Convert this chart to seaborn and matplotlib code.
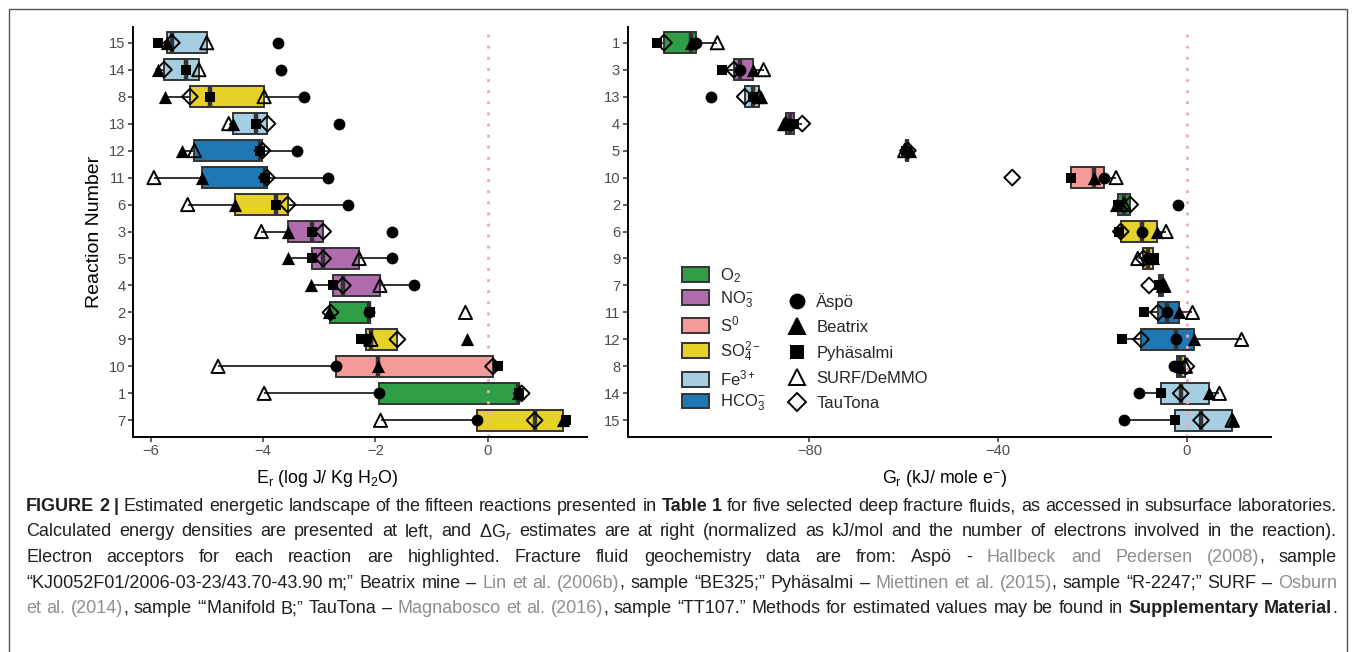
import pandas as pd
import seaborn as sns
import matplotlib.pyplot as plt
from matplotlib.lines import Line2D
from matplotlib.patches import Patch, Rectangle

# reaction numbers and electron acceptor of each reaction
reactions = ['1', '2', '3', '4', '5', '6', '7', '8', '9', '10', '11', '12', '13', '14', '15']
acceptors = ['O2', 'O2', 'NO3', 'NO3', 'NO3', 'SO4', 'SO4', 'SO4', 'SO4', 'S0',
             'HCO3', 'HCO3', 'Fe3', 'Fe3', 'Fe3']

sites = ['Äspö', 'Beatrix', 'Pyhäsalmi', 'SURF/DeMMO', 'TauTona']

# energy densities Er (log J / kg H2O), reactions 1..15
er_aspo = [-1.93, -2.12, -1.70, -1.32, -1.70, -2.49, -0.20, -3.27, -2.16, -2.70, -2.85, -3.39, -2.65, -3.68, -3.73]
er_beatrix = [0.53, -2.83, -3.56, -3.14, -3.55, -4.50, 1.33, -5.74, -0.37, -1.95, -5.08, -5.44, -4.53, -5.87, -5.70]
er_pyhasalmi = [0.56, -2.09, -3.12, -2.76, -3.13, -3.76, 1.39, -4.95, -2.25, 0.18, -3.97, -4.06, -4.12, -5.37, -5.87]
er_surf = [-3.98, -0.40, -4.03, -1.92, -2.29, -5.34, -1.91, -3.98, -2.08, -4.80, -5.94, -5.22, -4.61, -5.14, -5.00]
er_tautona = [0.60, -2.80, -2.93, -2.58, -2.93, -3.56, 0.83, -5.30, -1.61, 0.09, -3.93, -4.01, -3.92, -5.76, -5.62]

# Gibbs energies Gr (kJ / mole e-), reactions 1..15
gr_aspo = [-104.1, -1.8, -94.7, -84.2, -59.3, -9.5, -5.4, -2.7, -8.3, -17.6, -4.1, -2.3, -100.9, -10.2, -13.4]
gr_beatrix = [-105.1, -15.0, -91.9, -85.6, -58.7, -6.4, -5.0, -1.5, -7.2, -19.6, -1.7, 1.5, -90.3, 4.7, 9.8]
gr_pyhasalmi = [-112.3, -14.6, -98.6, -83.3, -59.5, -14.4, -5.9, -2.0, -6.9, -24.5, -9.0, -13.8, -92.0, -5.5, -2.5]
gr_surf = [-99.5, -13.3, -89.7, -85.0, -59.8, -4.4, -4.9, -0.3, -10.4, -15.0, 1.2, 11.6, -90.6, 6.9, 9.6]
gr_tautona = [-110.8, -12.0, -96.0, -81.5, -59.1, -14.0, -8.0, -0.1, -9.2, -37.0, -6.1, -9.7, -93.7, -1.3, 3.0]

acc_names = ['O2', 'NO3', 'S0', 'SO4', 'Fe3', 'HCO3']
acc_labels = ['O$_2$', 'NO$_3^{-}$', 'S$^0$', 'SO$_4^{2-}$', 'Fe$^{3+}$', 'HCO$_3^{-}$']
acc_colors = ['#2F9E46', '#B06BAF', '#F49A99', '#E6D12B', '#A6CEE3', '#1F78B4']

er_all = [er_aspo, er_beatrix, er_pyhasalmi, er_surf, er_tautona]
gr_all = [gr_aspo, gr_beatrix, gr_pyhasalmi, gr_surf, gr_tautona]
rows = []
for s, er_vals, gr_vals in zip(sites, er_all, gr_all):
    for r, a, e, g in zip(reactions, acceptors, er_vals, gr_vals):
        rows.append({'reaction': r, 'acceptor': a, 'site': s, 'Er': e, 'Gr': g})
df = pd.DataFrame(rows)

sns.set_theme(style="ticks")
plt.rcParams['font.family'] = ['Liberation Sans', 'DejaVu Sans']
plt.rcParams['mathtext.fontset'] = 'custom'
plt.rcParams['mathtext.rm'] = 'Liberation Sans'
plt.rcParams['mathtext.it'] = 'Liberation Sans:italic'
plt.rcParams['mathtext.bf'] = 'Liberation Sans:bold'

W, H = 1357, 652
fig = plt.figure(figsize=(W / 100, H / 100), dpi=100)
ax1 = fig.add_axes([133.3 / W, 1 - 436.5 / H, 453.4 / W, 410 / H])
ax2 = fig.add_axes([627.7 / W, 1 - 436.5 / H, 643.1 / W, 410 / H])

# marker, size, filled for each site
marker_style = {
    'Äspö': ('o', 8.5, True),
    'Beatrix': ('^', 9.5, True),
    'Pyhäsalmi': ('s', 7.5, True),
    'SURF/DeMMO': ('^', 9.5, False),
    'TauTona': ('D', 8.0, False),
}


def panel(ax, col, xticks, xlabel, label_x):
    # reactions ordered by median, like reorder() in ggplot
    order = list(df.groupby('reaction')[col].median().sort_values().index)
    sns.boxplot(data=df, x=col, y='reaction', order=order, hue='acceptor',
                hue_order=acc_names, palette=dict(zip(acc_names, acc_colors)),
                dodge=False, width=0.78, saturation=1, showfliers=False,
                showcaps=False, linewidth=1.4, linecolor='#333333',
                medianprops=dict(linewidth=3.2), legend=False, ax=ax)
    ax.axvline(0, color='#F7A5A5', ls=(0, (1, 3)), lw=2, zorder=2.5)
    for s in sites:
        m, sz, filled = marker_style[s]
        sub = df[df['site'] == s]
        if filled:
            sns.stripplot(data=sub, x=col, y='reaction', order=order, jitter=False,
                          marker=m, color='black', size=sz, linewidth=0,
                          zorder=4, ax=ax)
        else:
            sns.stripplot(data=sub, x=col, y='reaction', order=order, jitter=False,
                          marker=m, color='black', facecolor='none', edgecolor='black',
                          size=sz, linewidth=1.4, zorder=4, ax=ax)
    lo, hi = df[col].min(), df[col].max()
    pad = 0.05 * (hi - lo)
    ax.set_xlim(lo - pad, hi + pad)
    ax.set_ylim(len(order) - 0.4, -0.6)
    ax.set_xticks(xticks)
    ax.set_xlabel(xlabel, fontsize=12.8, color='black')
    ax.xaxis.set_label_coords(label_x, -0.078)
    ax.tick_params(axis='both', labelsize=10.6, labelcolor='#4D4D4D', color='#333333',
                   length=3.5, width=1.1, pad=2)
    sns.despine(ax=ax)
    for sp in ['left', 'bottom']:
        ax.spines[sp].set_linewidth(1.4)
        ax.spines[sp].set_color('black')


panel(ax1, 'Er', [-6, -4, -2, 0], r'E$_\mathrm{r}$ (log J/ Kg H$_2$O)', 0.427)
panel(ax2, 'Gr', [-80, -40, 0], r'G$_\mathrm{r}$ (kJ/ mole e$^{-}$)', 0.493)
ax1.set_ylabel('Reaction Number', fontsize=14, color='black')
ax1.yaxis.set_label_coords(-0.066, 0.5)
ax2.set_ylabel('')

# legends
fill_handles = [Patch(facecolor=c, edgecolor='#333333', linewidth=1.4) for c in acc_colors]
leg1 = ax2.legend(fill_handles, acc_labels, loc='upper left',
                  bbox_to_anchor=(682 / W, 1 - 266 / H), bbox_transform=fig.transFigure,
                  frameon=False, fontsize=12, handlelength=1.6, handleheight=1.0,
                  handletextpad=0.7, labelspacing=0.28, borderpad=0, borderaxespad=0)
ax2.add_artist(leg1)

shape_handles = []
for s in sites:
    m, sz, filled = marker_style[s]
    shape_handles.append(Line2D([], [], ls='none', marker=m, markersize=sz + 1.5,
                                markerfacecolor='black' if filled else 'none',
                                markeredgecolor='black', markeredgewidth=1.4))
ax2.legend(shape_handles, sites, loc='upper left',
           bbox_to_anchor=(787 / W, 1 - 293 / H), bbox_transform=fig.transFigure,
           frameon=False, fontsize=12, handlelength=1.15, handletextpad=0.6,
           labelspacing=0.62, borderpad=0, borderaxespad=0)

# caption, justified between the frame margins
caption = [
    [('FIGURE 2 |', 'b'), (' Estimated energetic landscape of the fifteen reactions presented in ', 'n'),
     ('Table 1', 'b'), (' for five selected deep fracture fluids, as accessed in subsurface laboratories.', 'n')],
    [('Calculated energy densities are presented at left, and ΔG$_r$ estimates are at right '
      '(normalized as kJ/mol and the number of electrons involved in the reaction).', 'n')],
    [('Electron acceptors for each reaction are highlighted. Fracture fluid geochemistry data are from: Aspö - ', 'n'),
     ('Hallbeck and Pedersen (2008)', 'g'), (', sample', 'n')],
    [('“KJ0052F01/2006-03-23/43.70-43.90 m;” Beatrix mine – ', 'n'), ('Lin et al. (2006b)', 'g'),
     (', sample “BE325;” Pyhäsalmi – ', 'n'), ('Miettinen et al. (2015)', 'g'),
     (', sample “R-2247;” SURF – ', 'n'), ('Osburn', 'g')],
    [('et al. (2014)', 'g'), (', sample “‘Manifold B;” TauTona – ', 'n'), ('Magnabosco et al. (2016)', 'g'),
     (', sample “TT107.” Methods for estimated values may be found in ', 'n'),
     ('Supplementary Material', 'b'), ('.', 'n')],
]
styles = {'n': ('normal', '#231F20'), 'b': ('bold', '#231F20'), 'g': ('normal', '#8E8E8E')}


def split_words(line):
    words = []
    new_word = True
    for text, st in line:
        parts = text.split(' ')
        for j, p in enumerate(parts):
            if j > 0:
                new_word = True
            if p == '':
                continue
            if new_word or not words:
                words.append([])
            words[-1].append((p, st))
            new_word = False
    return words


fig.canvas.draw()
renderer = fig.canvas.get_renderer()
x_left, x_right = 26, 1337

# font size chosen so that the first line fits with ordinary word spacing
probe_size = 12
natural = 0
for txt, st in caption[0]:
    weight, color = styles[st]
    t = fig.text(0, 0, txt.replace(' ', '\u00a0'), fontsize=probe_size, fontweight=weight)
    natural += t.get_window_extent(renderer).width
    t.remove()
cap_size = probe_size * (x_right - x_left) / natural

first_base, line_step = 511, 25.5
for i, line in enumerate(caption):
    yb = 1 - (first_base + i * line_step) / H
    placed = []
    total = 0
    for word in split_words(line):
        pieces = []
        for txt, st in word:
            weight, color = styles[st]
            t = fig.text(0, yb, txt, fontsize=cap_size, fontweight=weight, color=color,
                         ha='left', va='baseline')
            w = t.get_window_extent(renderer).width
            pieces.append((t, w))
            total += w
        placed.append(pieces)
    gap = (x_right - x_left - total) / (len(placed) - 1)
    x = x_left
    for pieces in placed:
        for t, w in pieces:
            t.set_x(x / W)
            x += w
        x += gap

# frame around the figure (bottom edge cut off)
fig.add_artist(Rectangle((9 / W, -0.1), 1338 / W, 1.1 - 9 / H, transform=fig.transFigure,
                         fill=False, edgecolor='#555555', linewidth=1.0))

fig.savefig('out.png', dpi=100)
